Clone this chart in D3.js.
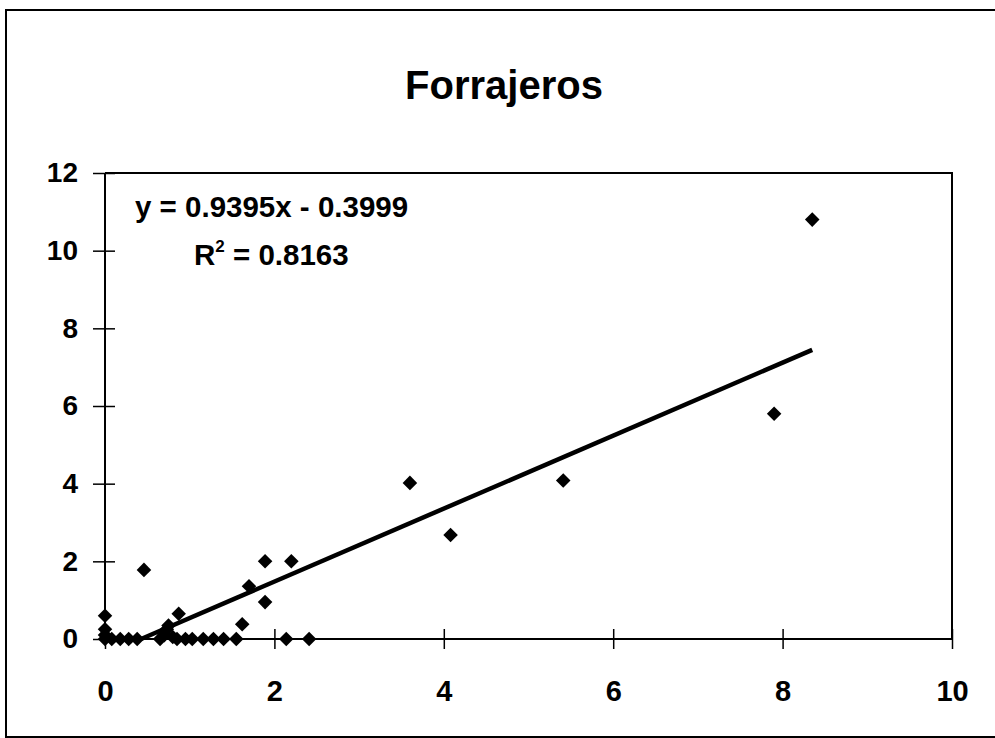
<!DOCTYPE html>
<html>
<head>
<meta charset="utf-8">
<script src="https://cdn.jsdelivr.net/npm/d3@7"></script>
<style>
  html, body { margin: 0; padding: 0; background: #fff; }
  svg { display: block; font-family: "Liberation Sans", Arial, sans-serif; }
</style>
</head>
<body>
<svg id="chart" width="995" height="738"></svg>
<script>
// ---- data ----
const title = "Forrajeros";
const xValues = [0, 0, 0, 0, 0.08, 0.18, 0.28, 0.38, 0.65, 0.70, 0.73, 0.75, 0.80, 0.85, 0.87, 0.95, 1.03, 1.16, 1.28, 1.40, 1.55, 2.14, 2.41,
                 0.46, 1.62, 1.70, 1.89, 1.89, 2.20, 3.60, 4.08, 5.41, 7.90, 8.35];
const yValues = [0.60, 0.25, 0.10, 0, 0, 0, 0, 0, 0, 0.10, 0.25, 0.35, 0.05, 0, 0.65, 0, 0, 0, 0, 0, 0, 0, 0,
                 1.78, 0.38, 1.36, 0.95, 2.00, 2.00, 4.02, 2.68, 4.08, 5.80, 10.80];
const xTicks = [0, 2, 4, 6, 8, 10];
const yTicks = [0, 2, 4, 6, 8, 10, 12];
const slope = 0.9395;
const intercept = -0.3999;
const equationText = "y = 0.9395x - 0.3999";
const r2Label = "R";
const r2Value = " = 0.8163";

// ---- layout ----
const svg = d3.select("#chart");
const pLeft = 105, pRight = 952, pTop = 173, pBottom = 639;
const x = d3.scaleLinear().domain([0, 10]).range([pLeft, pRight]);
const y = d3.scaleLinear().domain([0, 12]).range([pBottom, pTop]);

// outer frame
svg.append("rect").attr("x", 6).attr("y", 10).attr("width", 1000).attr("height", 727)
  .attr("fill", "none").attr("stroke", "#000").attr("stroke-width", 2);

// title
svg.append("text").attr("x", 504).attr("y", 99).attr("text-anchor", "middle")
  .attr("font-size", 40).attr("font-weight", "bold").text(title);

// plot border (top & right)
svg.append("path")
  .attr("d", `M${pLeft},${pTop}H${pRight}V${pBottom}`)
  .attr("fill", "none").attr("stroke", "#000").attr("stroke-width", 2);

// axes
const xAxis = d3.axisBottom(x).tickValues(xTicks).tickSizeInner(10).tickSizeOuter(0).tickPadding(31);
const yAxis = d3.axisLeft(y).tickValues(yTicks).tickSizeInner(12).tickSizeOuter(0).tickPadding(15);

const gx = svg.append("g").attr("transform", `translate(0,${pBottom})`).call(xAxis);
gx.select(".domain").attr("d", `M${pLeft - 6},0H${pRight}`).attr("stroke-width", 2);
gx.selectAll(".tick line").attr("y1", -10).attr("y2", 10).attr("stroke-width", 1.5);
gx.selectAll(".tick text").attr("font-size", 29).attr("font-weight", "bold")
  .attr("font-family", "Liberation Sans, Arial, sans-serif").attr("fill", "#000");

const gy = svg.append("g").attr("transform", `translate(${pLeft},0)`).call(yAxis);
gy.select(".domain").attr("d", `M0,${pTop}V${pBottom + 6}`).attr("stroke-width", 2);
gy.selectAll(".tick line").attr("x1", -12).attr("x2", 10).attr("stroke-width", 1.5);
gy.selectAll(".tick text").attr("font-size", 28).attr("font-weight", "bold")
  .attr("font-family", "Liberation Sans, Arial, sans-serif").attr("fill", "#000");

// trendline (clipped to plot area, y >= 0)
const xMin = d3.min(xValues), xMax = d3.max(xValues);
const xStart = Math.max(xMin, -intercept / slope);
svg.append("line")
  .attr("x1", x(xStart)).attr("y1", y(slope * xStart + intercept))
  .attr("x2", x(xMax)).attr("y2", y(slope * xMax + intercept))
  .attr("stroke", "#000").attr("stroke-width", 4.5);

// points
const pts = xValues.map((v, i) => ({ x: v, y: yValues[i] }));
svg.append("g").selectAll("path").data(pts).join("path")
  .attr("transform", d => `translate(${x(d.x)},${y(d.y)})`)
  .attr("d", d3.symbol().type(d3.symbolDiamond2).size(135))
  .attr("fill", "#000");

// equation
svg.append("text").attr("x", 135).attr("y", 217).attr("font-size", 29.5).attr("font-weight", "bold")
  .text(equationText);
const r2 = svg.append("text").attr("x", 194).attr("y", 265).attr("font-size", 29.5).attr("font-weight", "bold");
r2.append("tspan").text(r2Label);
r2.append("tspan").attr("dy", -13).attr("font-size", 17).text("2");
r2.append("tspan").attr("dy", 13).text(r2Value);
</script>
</body>
</html>
